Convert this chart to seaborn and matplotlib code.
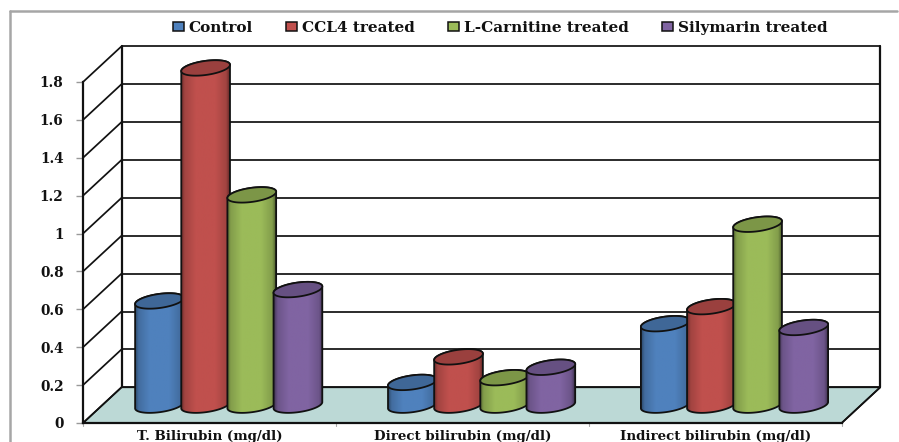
import numpy as np
import pandas as pd
import matplotlib
matplotlib.use("Agg")
import matplotlib.pyplot as plt
from matplotlib.lines import Line2D
from matplotlib.patches import PathPatch, Polygon, Rectangle
from matplotlib.path import Path
from matplotlib.colors import to_rgb
import seaborn as sns

# Serum bilirubin by treatment group
categories = ["T. Bilirubin (mg/dl)", "Direct bilirubin (mg/dl)", "Indirect bilirubin (mg/dl)"]
groups = ["Control", "CCL4 treated", "L-Carnitine treated", "Silymarin treated"]
control = [0.55, 0.12, 0.43]
ccl4 = [1.78, 0.255, 0.52]
carnitine = [1.11, 0.145, 0.955]
silymarin = [0.61, 0.20, 0.41]
colors = ["#4f81bd", "#c0504d", "#9bbb59", "#8064a2"]
y_ticks = [0, 0.2, 0.4, 0.6, 0.8, 1, 1.2, 1.4, 1.6, 1.8]
y_tick_labels = ["0", "0.2", "0.4", "0.6", "0.8", "1", "1.2", "1.4", "1.6", "1.8"]

df = pd.DataFrame({
    "category": categories * 4,
    "group": np.repeat(groups, 3),
    "value": control + ccl4 + carnitine + silymarin,
})

W, H = 899, 442
sns.set_style("white")
plt.rcParams["font.family"] = "DejaVu Serif"
plt.rcParams["font.weight"] = "bold"

fig = plt.figure(figsize=(W / 100, H / 100), dpi=100, facecolor="white")
ax = fig.add_axes([83 / W, (H - 423) / H, 758.7 / W, 341 / H])
ax.patch.set_alpha(0)

sns.barplot(data=df, x="category", y="value", hue="group", hue_order=groups,
            palette=colors, width=0.73, gap=0, saturation=1, ax=ax, errorbar=None,
            order=categories)
ax.set_xlim(-0.5, 2.5)
ax.set_ylim(0, 1.8)
ax.set_autoscale_on(False)

# Pixel sizes expressed in data units for the oblique projection
px_x = 3.0 / 758.7
px_y = 1.8 / 341.0
depth_x, depth_y = 38.5 * px_x, 35.7 * px_y

ax.set_yticks(y_ticks, y_tick_labels, fontsize=9.8, fontweight="bold", color="#111111")
ax.set_xlabel("")
ax.set_ylabel("")
ax.tick_params(axis="x", length=0, pad=5, labelsize=9.6, labelcolor="#111111")
ax.tick_params(axis="y", left=True, length=5, width=1, color="#999999", pad=9)
for s in ("top", "right"):
    ax.spines[s].set_visible(False)
for s in ("left", "bottom"):
    ax.spines[s].set_linewidth(1.6)
    ax.spines[s].set_color("#111111")
for x in (-0.5, 0.5, 1.5, 2.5):
    ax.plot([x, x], [0, -3 * px_y], color="#aaaaaa", lw=0.8, clip_on=False)

# Floor of the box
ax.add_patch(Polygon([(-0.5, 0), (2.5, 0), (2.5 + depth_x, depth_y), (-0.5 + depth_x, depth_y)],
                     facecolor="#bcd9d6", edgecolor="#111111", lw=1.2, zorder=0.5,
                     clip_on=False))

# Back wall and side wall rules
line_kw = dict(color="#111111", lw=1.25, clip_on=False, zorder=0.6, solid_capstyle="round")
for v in y_ticks:
    ax.plot([-0.5 + depth_x, 2.5 + depth_x], [v + depth_y] * 2, **line_kw)
    ax.plot([-0.5, -0.5 + depth_x], [v, v + depth_y], **line_kw)
for x0 in (-0.5 + depth_x, 2.5 + depth_x):
    ax.plot([x0, x0], [depth_y, 1.8 + depth_y], **{**line_kw, "lw": 1.6})
ax.plot([2.5, 2.5 + depth_x], [0, depth_y], **line_kw)


def ellipse(cx, cy, t):
    # Tilted ellipse of the cylinder cap, sized in pixels and converted to data units
    a, b, tilt = 24.6, 7.0, np.deg2rad(8)
    ex = a * np.cos(t) * np.cos(tilt) - b * np.sin(t) * np.sin(tilt)
    ey = a * np.cos(t) * np.sin(tilt) + b * np.sin(t) * np.cos(tilt)
    return cx + ex * px_x, cy + ey * px_y


bars = [b for b in ax.patches if isinstance(b, Rectangle) and b.get_height() > 0]
t_low = np.linspace(np.pi, 2 * np.pi, 60)
t_up = np.linspace(0, np.pi, 60)
t_all = np.linspace(0, 2 * np.pi, 120)
shade = np.interp(np.linspace(0, 1, 80), [0, 0.07, 0.3, 0.7, 0.93, 1],
                  [0.55, 0.84, 1.0, 1.0, 0.84, 0.50])

for i, bar in enumerate(bars):
    base = np.array(to_rgb(bar.get_facecolor()))
    cx = bar.get_x() + bar.get_width() / 2 + depth_x / 2
    y0 = depth_y / 2
    y1 = bar.get_height() + depth_y / 2
    order_z = 2 + (i // 3) * 0.1
    bx, by = ellipse(cx, y0, t_low)
    tx, ty = ellipse(cx, y1, t_up)
    verts = np.column_stack([np.r_[bx, tx], np.r_[by, ty]])
    outline = PathPatch(Path(np.vstack([verts, verts[0]]), closed=True), facecolor="none",
                        edgecolor="#111111", lw=1.3, zorder=order_z + 0.03, clip_on=False)
    ax.add_patch(outline)
    grad = shade[None, :, None] * base[None, None, :]
    im = ax.imshow(grad, extent=[verts[:, 0].min(), verts[:, 0].max(), y0 - 10 * px_y, y1 + 10 * px_y],
                   aspect="auto", origin="lower", interpolation="bilinear", zorder=order_z)
    # Tall columns rise past the top of the value axis, so clip to the figure and the outline
    im.set_clip_box(fig.bbox)
    im.set_clip_path(outline)
    cap_x, cap_y = ellipse(cx, y1, t_all)
    ax.fill(cap_x, cap_y, facecolor=base * 0.8, edgecolor="#111111", lw=1.3,
            zorder=order_z + 0.05, clip_on=False)
    bar.set_visible(False)

ax.set_xlim(-0.5, 2.5)
ax.set_ylim(0, 1.8)

sns.move_legend(ax, "center", bbox_to_anchor=(500 / W, (H - 28) / H), ncol=4, title=None,
                frameon=False, fontsize=11, handlelength=0.72, handleheight=0.55,
                handletextpad=0.3, columnspacing=2.2, borderpad=0,
                bbox_transform=fig.transFigure, labelcolor="#111111")
for h in ax.get_legend().legend_handles:
    h.set_edgecolor("#111111")
    h.set_linewidth(1.1)

# Chart frame
frame_kw = dict(color="#a6a6a6", lw=1.8, transform=fig.transFigure)
fig.add_artist(Line2D([10 / W, 10 / W], [0, (H - 11) / H], **frame_kw))
fig.add_artist(Line2D([10 / W, 897 / W], [(H - 11) / H] * 2, **frame_kw))

fig.savefig("out.png", dpi=100)
